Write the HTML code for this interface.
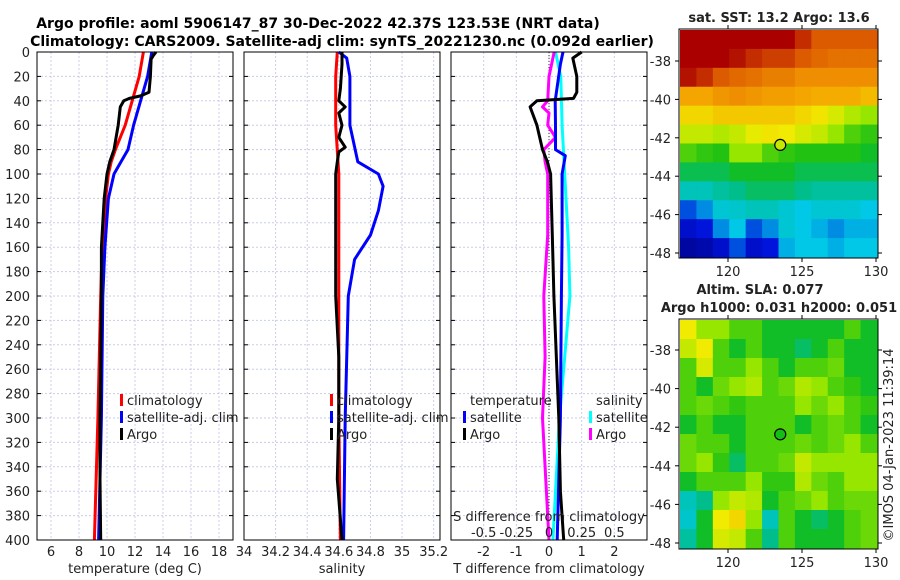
<!DOCTYPE html>
<html><head><meta charset="utf-8"><style>
html,body{margin:0;padding:0;background:#fff;}
svg{display:block;font-family:"DejaVu Sans","Liberation Sans",sans-serif;}
</style></head><body>
<svg id="chart" width="900" height="580" viewBox="0 0 900 580" xmlns="http://www.w3.org/2000/svg">
<text x="318" y="28" font-size="14" font-weight="bold" text-anchor="middle">Argo profile: aoml 5906147_87 30-Dec-2022 42.37S 123.53E (NRT data)</text>
<text x="342" y="46" font-size="14" font-weight="bold" text-anchor="middle">Climatology: CARS2009. Satellite-adj clim: synTS_20221230.nc (0.092d earlier)</text>
<g id="g"></g>
</svg>
<script>
// ---------- DATA ----------
const depthTicks=[0,20,40,60,80,100,120,140,160,180,200,220,240,260,280,300,320,340,360,380,400];
const tempTicks=[6,8,10,12,14,16,18];
const salTicks=[34,34.2,34.4,34.6,34.8,35,35.2];
const salTickLabels=["34","34.2","34.4","34.6","34.8","35","35.2"];
const tdiffTicks=[-2,-1,0,1,2];
const sdiffTicks=[-0.5,-0.25,0,0.25,0.5];
const sdiffTickLabels=["-0.5","-0.25","0","0.25","0.5"];

const tClimDepth=[0,20,40,60,80,90,100,120,140,160,180,200,300,400];
const tClim=[12.6,12.3,11.8,11.3,10.6,10.3,10.1,9.9,9.8,9.7,9.6,9.55,9.35,9.1];
const tSatDepth=[0,20,40,60,80,90,100,120,160,200,300,400];
const tSat=[13.2,12.9,12.4,11.9,11.5,11.0,10.5,10.1,9.85,9.7,9.6,9.4];
const tArgoDepth=[0,3,6,20,33,36,38,40,45,50,60,70,80,90,100,120,160,200,250,300,350,400];
const tArgo=[13.5,13.3,13.15,13.1,13.0,12.4,11.6,11.2,10.95,10.9,10.8,10.65,10.5,10.2,10.0,9.8,9.6,9.6,9.55,9.5,9.5,9.55];

const sClimDepth=[0,20,60,100,200,300,400];
const sClim=[34.59,34.58,34.58,34.6,34.6,34.6,34.61];
const sSatDepth=[0,5,20,60,90,100,110,130,150,170,200,300,400];
const sSat=[34.6,34.65,34.67,34.67,34.72,34.85,34.88,34.85,34.8,34.7,34.66,34.64,34.63];
const sArgoDepth=[0,10,30,40,45,50,60,70,78,82,90,100,150,200,250,300,350,400];
const sArgo=[34.62,34.62,34.61,34.6,34.64,34.6,34.62,34.6,34.64,34.6,34.59,34.58,34.58,34.58,34.6,34.6,34.59,34.62];

const dtSatDepth=[0,10,40,60,80,85,100,150,200,300,400];
const dtSat=[0.43,0.35,0.19,0.2,0.2,0.5,0.4,0.4,0.38,0.35,0.25];
const dtArgoDepth=[0,5,20,33,38,40,45,60,80,90,100,150,200,300,360,400];
const dtArgo=[1.0,0.73,0.85,0.85,0.75,-0.37,-0.58,-0.37,-0.2,-0.05,0.05,0.1,0.15,0.3,0.35,0.45];
const dsSatDepth=[0,20,60,80,120,160,200,250,300,400];
const dsSat=[0.05,0.09,0.1,0.11,0.13,0.15,0.16,0.12,0.08,0.03];
const dsArgoDepth=[0,20,40,45,50,60,70,80,90,100,150,200,250,300,400];
const dsArgo=[0.04,0.0,-0.01,-0.05,0.0,-0.01,0.05,-0.04,-0.03,-0.01,-0.01,-0.04,-0.03,-0.05,0.0];

const sstLatTicks=[-38,-40,-42,-44,-46,-48];
const lonTicks=[120,125,130];
const sstGrid=[
[.95,.95,.95,.95,.95,.95,.95,.9,.85,.85,.85,.85],
[.95,.95,.95,.93,.9,.88,.88,.85,.83,.82,.82,.82],
[.93,.9,.85,.83,.82,.8,.8,.78,.78,.78,.78,.78],
[.75,.75,.77,.78,.77,.76,.76,.75,.74,.74,.74,.72],
[.68,.68,.7,.7,.7,.7,.7,.68,.66,.62,.58,.55],
[.6,.6,.58,.6,.64,.66,.65,.62,.6,.55,.5,.48],
[.5,.48,.47,.55,.55,.5,.48,.47,.47,.47,.47,.45],
[.43,.43,.43,.45,.45,.45,.45,.43,.43,.43,.43,.43],
[.35,.35,.38,.4,.42,.42,.42,.4,.38,.38,.38,.38],
[.2,.25,.32,.33,.35,.35,.32,.3,.32,.32,.32,.3],
[.12,.15,.25,.3,.2,.25,.32,.3,.28,.25,.28,.28],
[.05,.07,.12,.2,.12,.15,.28,.3,.3,.28,.3,.3]];
const slaGrid=[
[.65,.55,.55,.5,.5,.45,.45,.45,.45,.45,.5,.45],
[.6,.65,.5,.45,.5,.45,.45,.42,.45,.5,.45,.45],
[.5,.62,.5,.5,.55,.5,.45,.5,.5,.52,.45,.45],
[.5,.45,.52,.55,.58,.5,.52,.58,.55,.5,.48,.45],
[.5,.52,.5,.48,.5,.5,.5,.55,.52,.55,.5,.48],
[.45,.5,.45,.45,.5,.5,.5,.45,.5,.52,.5,.45],
[.52,.5,.5,.45,.5,.5,.5,.52,.5,.52,.55,.5],
[.52,.55,.48,.42,.5,.5,.52,.6,.55,.55,.55,.55],
[.45,.5,.5,.5,.55,.48,.48,.58,.52,.5,.55,.55],
[.35,.4,.55,.6,.58,.45,.5,.52,.55,.5,.52,.52],
[.33,.45,.65,.68,.55,.35,.5,.45,.42,.45,.5,.52],
[.38,.45,.62,.6,.5,.4,.5,.45,.45,.45,.5,.52]];
const argoLon=123.53, argoLat=-42.37;

// ---------- DRAW ----------
const NS="http://www.w3.org/2000/svg";
const G=document.getElementById('g');
function mk(tag,attrs,parent){const e=document.createElementNS(NS,tag);for(const k in attrs)e.setAttribute(k,attrs[k]);(parent||G).appendChild(e);return e;}
function txt(x,y,s,size,anchor,parent){const t=mk('text',{x:x,y:y,'font-size':size||13,'text-anchor':anchor||'middle',fill:'#222'},parent);t.textContent=s;return t;}
const Y0=52,Y1=540;
const yD=d=>Y0+(d/400)*(Y1-Y0);
function panel(x0,x1,xmin,xmax,name){
  const sx=v=>x0+(v-xmin)/(xmax-xmin)*(x1-x0);
  const g=mk('g',{});
  
  
  return {sx,g,x0,x1};
}
function grid(p,xs){
  xs.forEach(v=>{const l=mk('line',{x1:p.sx(v),x2:p.sx(v),y1:Y0,y2:Y1,stroke:'#c8cdea','stroke-width':1,'stroke-dasharray':'2,2'},p.g);});
  depthTicks.forEach(d=>{const l=mk('line',{x1:p.x0,x2:p.x1,y1:yD(d),y2:yD(d),stroke:'#c8cdea','stroke-width':1,'stroke-dasharray':'2,2'},p.g);
    mk('line',{x1:p.x0,x2:p.x0+4,y1:yD(d),y2:yD(d),stroke:'#000'},p.g);mk('line',{x1:p.x1-4,x2:p.x1,y1:yD(d),y2:yD(d),stroke:'#000'},p.g);});
}
function line(p,xs,ds,color,name,w){
  const pts=xs.map((v,i)=>p.sx(v).toFixed(1)+','+yD(ds[i]).toFixed(1)).join(' ');
  const l=mk('polyline',{points:pts,fill:'none',stroke:color,'stroke-width':w||3,'stroke-linejoin':'round'},p.g);
  
  
}
function frame(p){const r=mk('rect',{x:p.x0,y:Y0,width:p.x1-p.x0,height:Y1-Y0,fill:'none',stroke:'#000','stroke-width':1},p.g);}
function legItem(x,y,color,label,parent){mk('rect',{x:x,y:y-11,width:3,height:12,fill:color},parent);const t=txt(x+7,y,label,13,'start',parent);}

// Panel 1 temperature
const p1=panel(37,233,5,19,'temperature-panel');
grid(p1,tempTicks);
line(p1,tClim,tClimDepth,'#ff0000','temp-climatology-line');
line(p1,tSat,tSatDepth,'#0000ff','temp-satellite-line');
line(p1,tArgo,tArgoDepth,'#000','temp-argo-line');
frame(p1);
depthTicks.forEach(d=>{const t=txt(30,yD(d)+5,String(d),13,'end',p1.g);});
tempTicks.forEach(v=>{const t=txt(p1.sx(v),556,String(v),13,'middle',p1.g);});
{const t=txt(135,573,'temperature (deg C)',13,'middle',p1.g);}
legItem(120,405,'#ff0000','climatology',p1.g);legItem(120,422,'#0000ff','satellite-adj. clim',p1.g);legItem(120,439,'#000','Argo',p1.g);

// Panel 2 salinity
const p2=panel(244,440,34,35.24,'salinity-panel');
grid(p2,salTicks);
line(p2,sClim,sClimDepth,'#ff0000','sal-climatology-line');
line(p2,sSat,sSatDepth,'#0000ff','sal-satellite-line');
line(p2,sArgo,sArgoDepth,'#000','sal-argo-line');
frame(p2);
salTicks.forEach((v,i)=>{const t=txt(p2.sx(v),556,salTickLabels[i],13,'middle',p2.g);});
{const t=txt(342,573,'salinity',13,'middle',p2.g);}
legItem(330,405,'#ff0000','climatology',p2.g);legItem(330,422,'#0000ff','satellite-adj. clim',p2.g);legItem(330,439,'#000','Argo',p2.g);

// Panel 3 differences
const p3=panel(451,647,-3,3,'difference-panel');
grid(p3,tdiffTicks);
{const z=mk('line',{x1:p3.sx(0),x2:p3.sx(0),y1:Y0,y2:Y1,stroke:'#333','stroke-width':1,'stroke-dasharray':'1,2'},p3.g);}
line(p3,dsSat.map(v=>v*4),dsSatDepth,'#00ffff','sdiff-satellite-line');
line(p3,dsArgo.map(v=>v*4),dsArgoDepth,'#ff00ff','sdiff-argo-line');
line(p3,dtSat,dtSatDepth,'#0000ff','tdiff-satellite-line');
line(p3,dtArgo,dtArgoDepth,'#000','tdiff-argo-line');
frame(p3);
tdiffTicks.forEach(v=>{const t=txt(p3.sx(v),556,String(v),13,'middle',p3.g);});
{const t=txt(549,573,'T difference from climatology',13,'middle',p3.g);}
{const t=txt(549,521,'S difference from climatology',13,'middle',p3.g);}
sdiffTicks.forEach((v,i)=>{const t=txt(p3.sx(v*4),537,sdiffTickLabels[i],13,'middle',p3.g);});
{const t=txt(470,405,'temperature',13,'start',p3.g);}
{const t=txt(596,405,'salinity',13,'start',p3.g);}
legItem(463,422,'#0000ff','satellite',p3.g);legItem(463,439,'#000','Argo',p3.g);
legItem(589,422,'#00ffff','satellite',p3.g);legItem(589,439,'#ff00ff','Argo',p3.g);

// Maps
const cmStops=[[0,0,0,130],[0.15,0,20,220],[0.3,0,200,230],[0.4,0,190,140],[0.46,20,190,20],[0.55,150,230,0],[0.65,240,235,0],[0.75,245,165,0],[0.85,220,90,0],[0.95,170,0,0],[1,150,0,0]];
function jet(v){v=Math.max(0,Math.min(1,v));for(let i=1;i<cmStops.length;i++){const a=cmStops[i-1],b=cmStops[i];if(v<=b[0]){const f=(v-a[0])/(b[0]-a[0]);return `rgb(${Math.round(a[1]+f*(b[1]-a[1]))},${Math.round(a[2]+f*(b[2]-a[2]))},${Math.round(a[3]+f*(b[3]-a[3]))})`;}}return 'rgb(150,0,0)';}
function map(bx0,bx1,by0,by1,latToY,lonToX,grid,name,dotColor){
  const g=mk('g',{});
  const rows=grid.length,cols=grid[0].length,cw=(bx1-bx0-2)/cols,ch=(by1-by0-2)/rows;
  grid.forEach((row,i)=>row.forEach((v,j)=>{const c=mk('rect',{x:bx0+1+j*cw,y:by0+1+i*ch,width:cw+0.6,height:ch+0.6,fill:jet(v)},g);}));
  mk('rect',{x:bx0,y:by0,width:bx1-bx0,height:by1-by0,fill:'none',stroke:'#000'},g);
  sstLatTicks.forEach(l=>{const y=latToY(l);mk('line',{x1:bx0-4,x2:bx0,y1:y,y2:y,stroke:'#000'},g);mk('line',{x1:bx1,x2:bx1+4,y1:y,y2:y,stroke:'#000'},g);const t=txt(bx0-8,y+5,String(l),13,'end',g);});
  lonTicks.forEach(l=>{const x=lonToX(l);mk('line',{x1:x,x2:x,y1:by1,y2:by1+4,stroke:'#000'},g);mk('line',{x1:x,x2:x,y1:by0-4,y2:by0,stroke:'#000'},g);const t=txt(x,by1+18,String(l),13,'middle',g);});
  const c=mk('circle',{cx:lonToX(argoLon),cy:latToY(argoLat),r:5.5,fill:dotColor,stroke:'#000','stroke-width':1.2},g);
  
}
const lonX=l=>728+(l-120)*14.8;
map(679,878,29,258,l=>61+(-38-l)*19.2,lonX,sstGrid,'sst-map',jet(0.6));
{const t=txt(779,22,'sat. SST: 13.2 Argo: 13.6',13,'middle');t.setAttribute('font-weight','bold');}
map(679,878,319,549,l=>350+(-38-l)*19.3,lonX,slaGrid,'sla-map',jet(0.46));
{const t=txt(760,294,'Altim. SLA: 0.077',13,'middle');t.setAttribute('font-weight','bold');}
{const t=txt(779,312,'Argo h1000: 0.031 h2000: 0.051',13,'middle');t.setAttribute('font-weight','bold');}
{const t=txt(0,0,'©IMOS 04-Jan-2023 11:39:14',13,'middle');t.setAttribute('transform','translate(893,445) rotate(-90)');}
</script>
</body></html>
